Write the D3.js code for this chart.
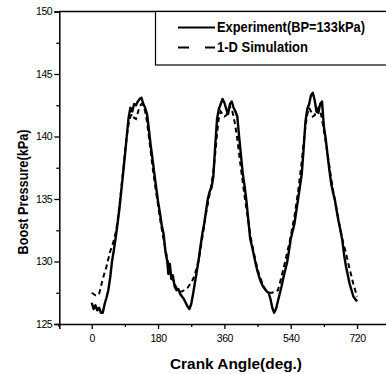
<!DOCTYPE html>
<html>
<head>
<meta charset="utf-8">
<script src="https://cdn.jsdelivr.net/npm/d3@7"></script>
<style>
  html, body { margin: 0; padding: 0; background: #fff; }
  svg { display: block; }
  .tick text { font-family: "Liberation Sans", Arial, sans-serif; font-size: 10.5px; fill: #000; }
  .domain, .tick line { stroke: #000; }
</style>
</head>
<body>
<svg id="chart" width="386" height="374"></svg>
<script>
// Crank angle (deg) and boost pressure (kPa), measured trace
const expAngle = [0,5,10,15,20,25,30,35,40,45,50,55,60,65,70,75,80,85,90,95,100,105,110,115,120,125,130,135,140,145,150,155,160,165,170,175,180,185,190,195,200,205,208,212,216,220,225,230,235,240,245,250,255,260,265,270,275,280,285,290,295,300,305,310,315,320,325,330,335,340,345,350,355,360,365,370,375,380,385,390,395,400,405,410,415,420,425,430,435,440,445,450,455,460,465,470,475,480,485,490,495,500,505,510,515,520,525,530,535,540,545,550,555,560,565,570,575,580,585,590,595,600,605,610,615,620,625,630,635,640,645,650,655,660,665,670,675,680,685,690,695,700,705,710,715,720];
const expPressure = [126.7,126.2,126.5,126.1,126.3,125.9,125.9,126.6,127.1,127.7,128.7,130.0,130.9,131.9,133.0,134.2,135.6,137.0,138.5,140.0,141.5,142.3,142.0,142.6,142.5,142.8,143.0,143.1,142.6,142.3,141.8,140.6,139.3,138.2,137.0,135.9,134.8,133.9,132.9,132.2,130.8,130.0,129.0,129.8,128.6,128.9,128.0,127.7,127.8,127.4,127.2,127.0,126.7,126.4,126.2,126.6,127.4,128.3,129.2,130.1,131.2,132.2,133.0,134.0,135.0,135.6,135.9,136.8,139.2,141.4,142.2,142.6,143.0,142.7,142.2,141.8,142.6,142.8,142.3,142.0,141.6,140.0,138.5,137.0,136.0,134.8,133.3,131.8,131.2,130.5,129.8,129.2,128.7,128.3,128.0,127.8,127.6,127.5,127.0,126.3,125.9,126.2,126.8,127.4,128.0,128.7,129.3,129.9,130.8,131.8,132.4,133.0,134.0,135.0,136.0,137.0,139.0,141.2,142.2,142.6,143.3,143.5,142.9,142.0,141.9,142.6,142.8,140.8,139.8,138.5,137.3,136.2,135.5,134.9,134.0,133.2,132.5,131.7,130.5,129.6,128.9,128.2,127.7,127.2,127.0,126.8];

// 1-D simulation trace
const simAngle = [0,5,10,15,20,25,30,35,40,45,50,55,60,65,70,75,80,85,90,95,100,105,110,115,120,125,130,135,140,145,150,155,160,165,170,175,180,185,190,195,200,205,210,215,220,225,230,235,240,245,250,255,260,265,270,275,280,285,290,295,300,305,310,315,320,325,330,335,340,345,350,355,360,365,370,375,380,385,390,395,400,405,410,415,420,425,430,435,440,445,450,455,460,465,470,475,480,485,490,495,500,505,510,515,520,525,530,535,540,545,550,555,560,565,570,575,580,585,590,595,600,605,610,615,620,625,630,635,640,645,650,655,660,665,670,675,680,685,690,695,700,705,710,715,720];
const simPressure = [127.5,127.4,127.3,127.3,127.4,128.0,128.6,129.1,129.6,130.2,130.8,131.2,131.7,132.3,133.2,134.4,135.8,137.2,138.6,140.0,141.0,141.6,141.8,141.5,141.4,141.9,142.4,142.6,142.5,142.0,141.2,140.0,138.8,137.6,136.5,135.5,134.5,133.5,132.6,131.8,131.0,130.2,129.5,129.0,128.6,128.2,127.9,127.7,127.6,127.6,127.7,127.8,127.9,128.1,128.3,128.6,129.0,129.5,130.1,131.0,131.9,132.8,133.8,134.6,135.4,136.2,137.2,138.6,140.2,141.5,142.0,141.8,141.6,141.7,142.1,142.4,142.2,141.6,140.8,139.8,138.6,137.4,136.3,135.2,134.2,133.2,132.2,131.4,130.7,130.0,129.4,128.9,128.5,128.1,127.8,127.6,127.5,127.5,127.5,127.6,127.6,127.7,128.2,128.8,129.4,130.0,130.7,131.3,132.0,132.8,133.6,134.6,135.6,136.8,138.0,139.5,140.8,141.8,142.3,142.0,141.6,141.7,142.1,142.3,142.0,141.4,140.5,139.6,138.6,137.6,136.6,135.7,134.9,134.1,133.3,132.5,131.8,131.2,130.7,130.0,129.4,128.8,128.2,127.7,127.2];

const xMajorTicks = [0, 180, 360, 540, 720];
const xMinorTicks = [-90, 90, 270, 450, 630];
const yMajorTicks = [125, 130, 135, 140, 145, 150];
const yMinorTicks = [127.5, 132.5, 137.5, 142.5, 147.5];

const seriesNames = ["Experiment(BP=133kPa)", "1-D Simulation"];
const xTitle = "Crank Angle(deg.)";
const yTitle = "Boost Pressure(kPa)";

const svg = d3.select("#chart");
const plotLeft = 59.3, plotTop = 11.5, plotBottom = 324;

const x = d3.scaleLinear().domain([-88, 808]).range([plotLeft, plotLeft + 896 * 0.3685]);
const y = d3.scaleLinear().domain([125, 150]).range([plotBottom, plotTop]);

const font = '"Liberation Sans", Arial, sans-serif';

// axes
const xAxis = svg.append("g").attr("transform", `translate(0,${plotBottom})`)
  .call(d3.axisBottom(x).tickValues(xMajorTicks).tickSize(5).tickPadding(6).tickFormat(d3.format("d")));
svg.append("g").attr("transform", `translate(0,${plotBottom})`)
  .call(d3.axisBottom(x).tickValues(xMinorTicks).tickSize(3).tickFormat(""))
  .select(".domain").remove();
const yAxis = svg.append("g").attr("transform", `translate(${plotLeft},0)`)
  .call(d3.axisLeft(y).tickValues(yMajorTicks).tickSize(5).tickPadding(2).tickFormat(d3.format("d")));
svg.append("g").attr("transform", `translate(${plotLeft},0)`)
  .call(d3.axisLeft(y).tickValues(yMinorTicks).tickSize(3).tickFormat(""))
  .select(".domain").remove();

svg.selectAll(".domain").attr("stroke-width", 1.5);
svg.selectAll(".tick line").attr("stroke-width", 1.3);
xAxis.selectAll(".tick text").attr("letter-spacing", "-0.4px");
yAxis.selectAll(".tick text").attr("letter-spacing", "-0.4px");

// top frame line
svg.append("line")
  .attr("x1", x(-88)).attr("x2", x(808))
  .attr("y1", y(150)).attr("y2", y(150))
  .attr("stroke", "#000").attr("stroke-width", 1.5);

// curves
const expData = expAngle.map((a, i) => [a, expPressure[i]]);
const simData = simAngle.map((a, i) => [a, simPressure[i]]);
const line = d3.line().x(d => x(d[0])).y(d => y(d[1]));

svg.append("path").datum(simData)
  .attr("d", line).attr("fill", "none")
  .attr("stroke", "#000").attr("stroke-width", 2)
  .attr("stroke-dasharray", "5,3.5");

svg.append("path").datum(expData)
  .attr("d", line).attr("fill", "none")
  .attr("stroke", "#000").attr("stroke-width", 2.4)
  .attr("stroke-linejoin", "round");

// legend
const lg = svg.append("g");
lg.append("rect")
  .attr("x", 155.5).attr("y", y(150))
  .attr("width", 260).attr("height", 65 - y(150))
  .attr("fill", "#fff").attr("stroke", "#000").attr("stroke-width", 1.2);
lg.append("line").attr("x1", 178).attr("x2", 215).attr("y1", 27.5).attr("y2", 27.5)
  .attr("stroke", "#000").attr("stroke-width", 2.2);
lg.append("line").attr("x1", 178).attr("x2", 215).attr("y1", 47.5).attr("y2", 47.5)
  .attr("stroke", "#000").attr("stroke-width", 2.2).attr("stroke-dasharray", "11,16");
lg.selectAll("text.legend").data(seriesNames).join("text")
  .attr("class", "legend")
  .attr("x", 217).attr("y", (d, i) => 32 + i * 20)
  .attr("font-family", font).attr("font-weight", "bold").attr("font-size", 14)
  .attr("textLength", (d, i) => i === 0 ? 148 : 91)
  .attr("lengthAdjust", "spacingAndGlyphs")
  .text(d => d);

// axis titles
svg.append("text")
  .attr("x", 236).attr("y", 368.5).attr("text-anchor", "middle")
  .attr("font-family", font).attr("font-weight", "bold").attr("font-size", 15)
  .attr("textLength", 132).attr("lengthAdjust", "spacingAndGlyphs")
  .text(xTitle);
svg.append("text")
  .attr("transform", "translate(28,192) rotate(-90)")
  .attr("text-anchor", "middle")
  .attr("font-family", font).attr("font-weight", "bold").attr("font-size", 15)
  .attr("textLength", 125).attr("lengthAdjust", "spacingAndGlyphs")
  .text(yTitle);
</script>
</body>
</html>
